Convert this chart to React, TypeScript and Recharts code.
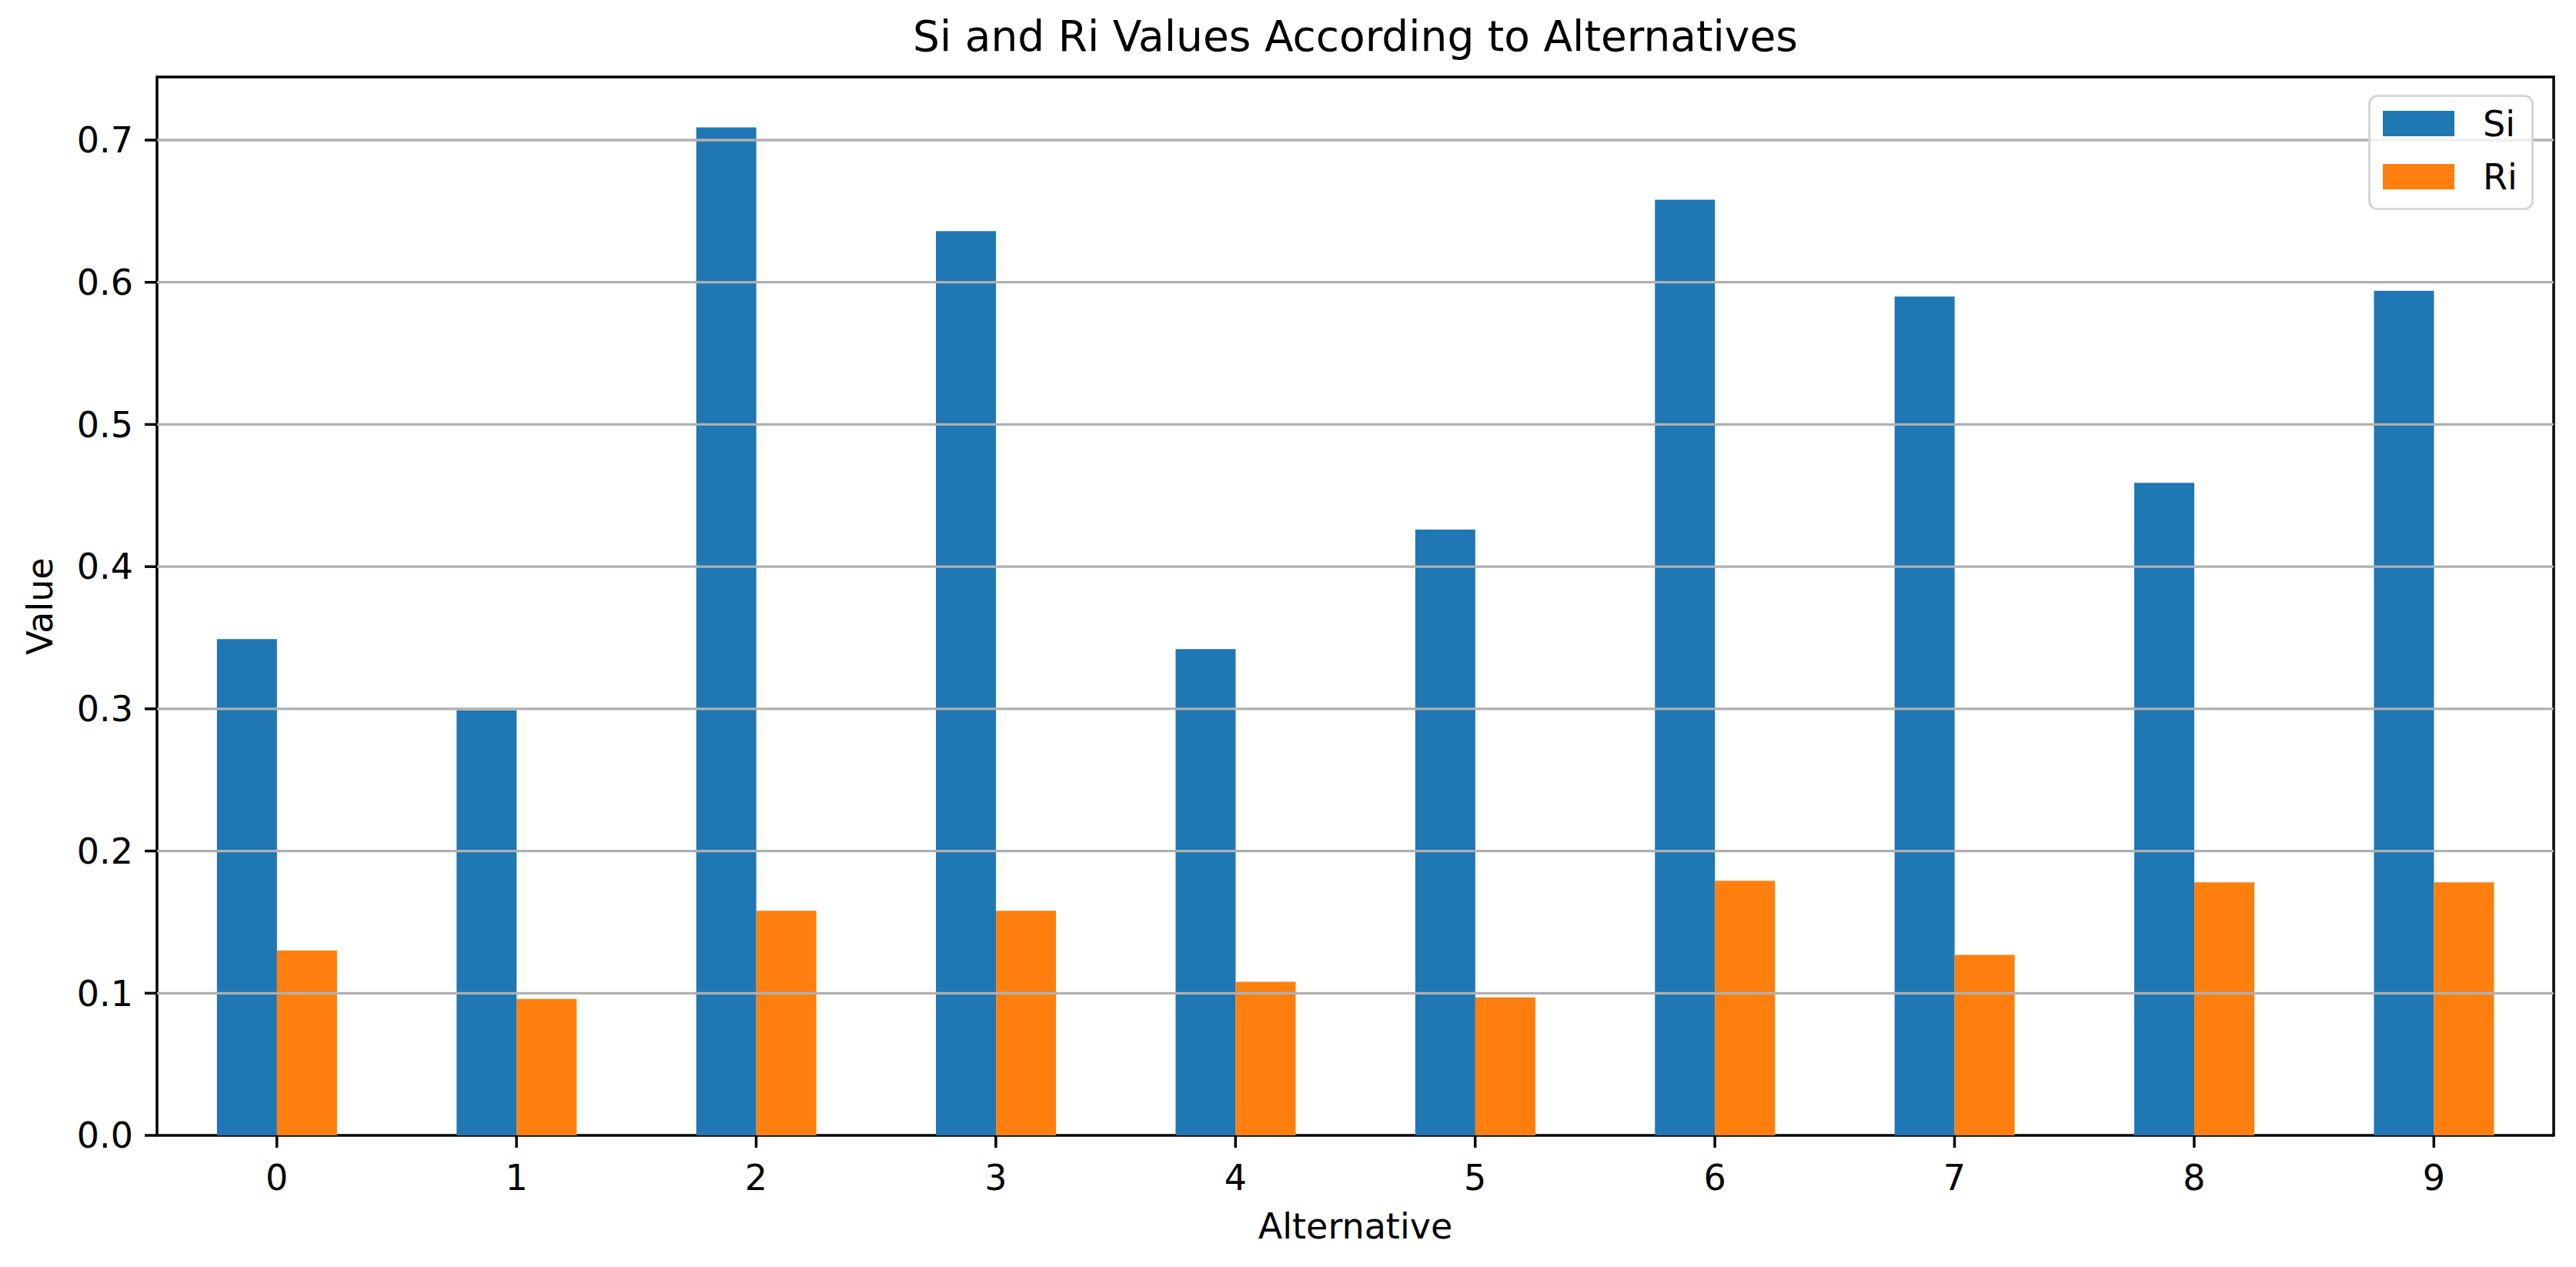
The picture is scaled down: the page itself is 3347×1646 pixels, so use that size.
import { BarChart, Bar, XAxis, YAxis, ReferenceLine, ReferenceArea, Legend, Label } from 'recharts';

// values
const alternatives = ['0', '1', '2', '3', '4', '5', '6', '7', '8', '9'];
const siValues = [0.349, 0.299, 0.709, 0.636, 0.342, 0.426, 0.658, 0.59, 0.459, 0.594];
const riValues = [0.13, 0.096, 0.158, 0.158, 0.108, 0.097, 0.179, 0.127, 0.178, 0.178];
const seriesNames = ['Si', 'Ri'];
const yTicks = [0, 0.1, 0.2, 0.3, 0.4, 0.5, 0.6, 0.7];
const yMax = 0.7444;

const data = alternatives.map((name, i) => ({ name, Si: siValues[i], Ri: riValues[i] }));

const FONT = '"DejaVu Sans", sans-serif';
const W = 3331;
const H = 1630;
const margin = { top: 92, right: 21, bottom: 37, left: 0 };
const tickStyle = { fill: '#000', fontSize: 46, fontFamily: FONT };
const labelStyle = { fontSize: 46, fontFamily: FONT, fill: '#000' };
const spine = { stroke: '#000', strokeWidth: 3.5 };

function LegendBox({ payload }: any) {
  const items = [...(payload || [])].sort(
    (a: any, b: any) => seriesNames.indexOf(a.value) - seriesNames.indexOf(b.value)
  );
  return (
    <div
      style={{
        boxSizing: 'border-box',
        position: 'relative',
        width: 215,
        height: 150,
        border: '3px solid #d6d6d6',
        borderRadius: 12,
        background: 'rgba(255,255,255,0.8)',
        fontFamily: FONT,
      }}
    >
      {items.map((entry: any, i: number) => (
        <div key={entry.value} style={{ position: 'absolute', left: 16, top: 18 + i * 69, width: 190, height: 33 }}>
          <span style={{ position: 'absolute', left: 0, top: 0, width: 93, height: 33, background: entry.color }} />
          <span style={{ position: 'absolute', left: 130, top: -6, fontSize: 46, lineHeight: '46px', color: '#000' }}>
            {entry.value}
          </span>
        </div>
      ))}
    </div>
  );
}

export default function App() {
  return (
    <div style={{ position: 'relative', width: W, height: H, fontFamily: FONT, background: '#fff' }}>
      <BarChart width={W} height={H} data={data} margin={margin} barCategoryGap="25%" barGap={0}>
        <XAxis
          dataKey="name"
          height={126}
          interval={0}
          tick={tickStyle}
          tickSize={16}
          tickMargin={22}
          tickLine={spine}
          axisLine={false}
        >
          <Label value="Alternative" position="bottom" offset={-25} style={labelStyle} />
        </XAxis>
        <YAxis
          type="number"
          width={196}
          domain={[0, yMax]}
          ticks={yTicks}
          allowDataOverflow
          interval={0}
          tickFormatter={(v: number) => v.toFixed(1)}
          tick={tickStyle}
          tickSize={16}
          tickMargin={15}
          tickLine={spine}
          axisLine={false}
        >
          <Label
            value="Value"
            angle={-90}
            position="insideLeft"
            offset={44}
            style={{ ...labelStyle, textAnchor: 'middle' }}
          />
        </YAxis>
        <Bar dataKey="Si" name="Si" fill="#1f77b4" isAnimationActive={false} />
        <Bar dataKey="Ri" name="Ri" fill="#ff7f0e" isAnimationActive={false} />
        {yTicks
          .filter((t) => t > 0)
          .map((t) => (
            <ReferenceLine key={t} y={t} stroke="#b0b0b0" strokeWidth={3.3} />
          ))}
        <ReferenceArea
          x1={alternatives[0]}
          x2={alternatives[alternatives.length - 1]}
          y1={0}
          y2={yMax}
          fill="none"
          fillOpacity={0}
          stroke="#000"
          strokeWidth={3.5}
          ifOverflow="visible"
        />
        <Legend
          layout="horizontal"
          align="center"
          verticalAlign="middle"
          width={215}
          height={150}
          wrapperStyle={{ left: 3069, top: 115, width: 215, height: 150 }}
          content={(props: any) => <LegendBox {...props} />}
        />
      </BarChart>
      <div
        style={{
          position: 'absolute',
          left: 196,
          width: 3114,
          top: 12,
          textAlign: 'center',
          fontSize: 55,
          lineHeight: '55px',
          color: '#000',
        }}
      >
        Si and Ri Values According to Alternatives
      </div>
    </div>
  );
}
